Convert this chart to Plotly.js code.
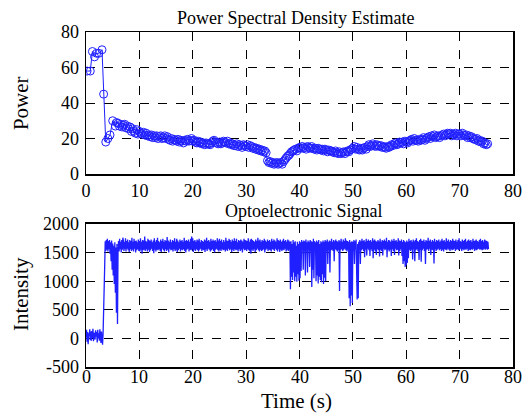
<!DOCTYPE html>
<html><head><meta charset="utf-8">
<script src="https://cdn.plot.ly/plotly-3.0.1.min.js"></script>
<style>html,body{margin:0;padding:0;background:#fff}</style>
</head><body><div id="chart" style="width:522px;height:420px"></div>
<script>
// ---- Data ----
const xTickVals = [0,10,20,30,40,50,60,70,80];
const psdTickVals = [0,20,40,60,80];
const sigTickVals = [-500,0,500,1000,1500,2000];
const sigTickText = ['-500','0','500','1000','1500','2000'];

// PSD: early irregular points
const psdEarlyX = [0.2,0.8,1.2,1.6,2.0,2.4,3.0,3.3,3.7,4.1,4.5,5.0,5.5];
const psdEarlyY = [58,58,69,66,68,68,70,45,18,20,22,30,27];
// PSD: dense part, starting at 5.75, step 0.25
const psdDenseStart = 5.75, psdDenseStep = 0.25;
const psdDenseY = [
 29,
 28.5,27,28,26.5, 27.5,28,26,27, 25.5,26.5,24,25.5, 24,23,25,22.5,
 24,23,22.5,23.5, 22,23,21.5,22, 21,22,20.5,21.5, 20.5,21.5,20,21,
 21.5,20,20.5,21.5, 20,21,19.5,19, 20,18.5,19.5,19, 18.5,19.5,18,19,
 18.5,17.5,19,18.5, 19.5,18.5,19,20, 18.5,19,18,17.5, 18.5,17.5,18,17,
 17.5,16.5,17.5,17, 17,16.5,17.5,18.5, 19,18,17.5,17, 18,17,17.5,18.5,
 18,17.5,18.5,17, 17.5,16.5,17,16, 16,17,15.5,16.5, 16,15,16.5,16,
 15.5,16.5,15,16, 15.5,14.5,15,14, 14.5,13.5,14,13, 13.5,12.5,13,12,
 7.5,6.5,7,6, 6.5,5.5,6,6.5, 5.5,6,6.5,5.5, 7,8,9,10,
 10.5,11.5,12.5,13, 13.5,14,13,14.5, 15,14.5,15.5,14.5, 15,14,15.5,15,
 14.5,15.5,14.5,14, 14.5,13.5,14.5,14, 13.5,14,13,14, 13.5,12.5,13.5,13,
 13,12.5,12,13, 12,11.5,12.5,11.5, 12,12.5,11.5,12.5, 13,12.5,13.5,14,
 14.5,15.5,14,15, 14,13.5,14.5,13.5, 14.5,15,14,15.5, 16.5,15.5,16,17,
 16,15.5,16.5,16, 15.5,16,15,15.5, 15,14.5,15.5,15, 15.5,16.5,16,17,
 17.5,16.5,17,18, 17.5,18,17,18.5, 18,17.5,18.5,19, 19.5,18.5,20,19,
 19,18.5,19.5,19, 19.5,20.5,19,20, 20.5,21,20,21.5, 21,22,20.5,21,
 21.5,20.5,21.5,22, 22.5,21.5,22,23, 22.5,23,21.5,22.5, 22,23,21.5,22.5,
 22.5,21.5,23,22, 21.5,22,20.5,21.5, 20.5,21,20,19.5, 19.5,20,18.5,19,
 18,18.5,17,17.5, 16.5,17
];

// Optoelectronic signal, sampled every 0.1 s from 0 s
const sigStart = 0, sigStep = 0.1;
const sigY = [
 20,150,-60,110,-100,90,40,160,-30,120,
 -40,130,10,170,-50,100,60,-20,140,30,
 110,-70,150,0,90,-40,160,20,-80,120,
 40,-110,80,350,700,1250,1700,1530,1720,1550,
 1740,1520,1700,1560,1720,1480,1680,1350,1710,1200,
 1660,1100,1620,950,1680,800,1590,450,1650,250,
 1540,1700,1520,1740,1560,1690,1500,1720,1550,1760,
 1710,1530,1690,1560,1750,1520,1700,1570,1730,1540,
 1680,1510,1720,1560,1700,1530,1760,1550,1690,1520,
 1740,1570,1700,1500,1710,1540,1680,1560,1730,1530,
 1700,1520,1750,1550,1690,1480,1720,1540,1710,1550,
 1780,1530,1700,1560,1690,1520,1740,1550,1720,1510,
 1700,1540,1730,1570,1680,1530,1710,1490,1750,1550,
 1690,1520,1720,1550,1760,1540,1700,1560,1680,1530,
 1730,1510,1700,1570,1740,1540,1690,1520,1720,1560,
 1700,1530,1770,1550,1710,1500,1690,1570,1730,1540,
 1680,1550,1720,1520,1700,1560,1750,1530,1690,1550,
 1740,1510,1710,1540,1680,1570,1730,1520,1700,1550,
 1720,1540,1690,1560,1760,1530,1700,1500,1720,1550,
 1700,1570,1730,1520,1690,1550,1740,1540,1780,1560,
 1750,1510,1700,1550,1720,1530,1690,1560,1730,1540,
 1710,1520,1740,1550,1680,1570,1720,1530,1700,1550,
 1690,1540,1730,1510,1710,1560,1760,1530,1700,1570,
 1720,1550,1690,1520,1740,1540,1700,1560,1730,1530,
 1700,1500,1720,1550,1690,1570,1750,1540,1710,1520,
 1740,1550,1700,1530,1730,1560,1680,1540,1720,1550,
 1690,1520,1760,1550,1710,1530,1700,1570,1740,1540,
 1720,1560,1690,1510,1730,1550,1700,1530,1750,1560,
 1700,1540,1740,1550,1680,1520,1720,1560,1700,1530,
 1730,1550,1710,1500,1690,1570,1740,1540,1720,1550,
 1710,1530,1700,1560,1750,1540,1690,1520,1730,1480,
 1740,1550,1720,1530,1700,1560,1690,1510,1730,1540,
 1700,1570,1760,1540,1710,1520,1730,1550,1690,1530,
 1720,1540,1700,1560,1740,1500,1710,1550,1690,1570,
 1730,1530,1700,1550,1720,1540,1690,1520,1740,1560,
 1700,1550,1730,1530,1710,1570,1690,1540,1750,1520,
 1720,1560,1700,1510,1730,1550,1690,1530,1710,1550,
 1740,1540,1700,1570,1720,1520,1690,1550,1730,1530,
 1710,1550,1690,860,1700,1080,1650,1020,1720,1150,
 1680,1000,1700,1080,1620,990,1690,1120,1650,1010,
 1700,1050,1680,1180,1720,1550,1690,1200,1710,1530,
 1700,1100,1730,1540,1680,1150,1710,1550,1690,1250,
 1720,1530,1700,900,1690,1200,1740,1050,1700,1550,
 1680,1000,1710,1100,1690,960,1720,1080,1650,1020,
 1700,980,1680,1120,1710,950,1690,1060,1720,1000,
 1700,1530,1730,1300,1690,1550,1710,1150,1700,1540,
 1740,1550,1690,1530,1720,1350,1700,1560,1730,1540,
 1700,1520,1690,1550,1720,830,1700,1540,1740,1560,
 1690,1530,1730,1550,1700,1570,1750,1540,1710,1520,
 1700,1550,1690,700,1720,560,1680,750,1700,620,
 1690,1530,1720,1300,1700,1560,1730,900,680,1650,
 700,1690,1550,1720,1300,1700,1540,1740,1560,1700,
 1530,1720,1420,1690,1550,1740,1450,1700,1570,1730,
 1540,1700,1440,1720,1560,1690,1530,1750,1400,1710,
 1550,1730,1520,1700,1460,1690,1560,1720,1540,1700,
 1430,1740,1550,1690,1530,1720,1450,1700,1570,1730,
 1540,1700,1560,1760,1420,1690,1550,1720,1520,1710,
 1550,1690,1440,1730,1560,1700,1530,1740,1460,1700,
 1570,1720,1540,1690,1550,1750,1450,1710,1530,1700,
 1560,1730,1440,1690,1300,1720,1350,1700,1250,1680,
 1280,1710,1320,1690,1400,1740,1550,1700,1530,1720,
 1550,1690,1380,1730,1560,1700,1350,1720,1540,1750,
 1560,1700,1530,1690,1370,1720,1550,1740,1340,1710,
 1540,1700,1570,1730,1530,1690,1300,1720,1550,1700,
 1560,1760,1530,1700,1570,1730,1460,1690,1550,1720,
 1540,1700,1310,1740,1560,1690,1530,1720,1550,1700,
 1570,1730,1540,1690,1560,1710,1530,1740,1550,1700,
 1520,1720,1560,1690,1550,1750,1540,1700,1570,1730,
 1550,1690,1530,1720,1560,1700,1540,1740,1550,1710,
 1570,1700,1530,1730,1550,1690,1560,1720,1540,1750,
 1550,1700,1570,1690,1530,1730,1560,1700,1540,1720,
 1560,1740,1550,1690,1570,1710,1530,1730,1550,1700,
 1540,1720,1560,1690,1550,1740,1570,1700,1530,1710,
 1550,1730,1540,1700,1560,1690,1570,1720,1550,1740,
 1560,1700,1540,1720,1550,1690,1570,1730,1550,1710,
 1570,1700,1550,1690,1560
];

// ---- Build traces ----
const psdX = psdEarlyX.slice();
const psdY = psdEarlyY.slice();
psdDenseY.forEach((v,i)=>{ psdX.push(psdDenseStart + i*psdDenseStep); psdY.push(v); });
const sigX = sigY.map((v,i)=> +(sigStart + i*sigStep).toFixed(3));

const BLUE = '#1f1fff';
const traces = [
  {x: psdX, y: psdY, xaxis:'x', yaxis:'y', type:'scatter', mode:'lines+markers',
   line:{color:BLUE, width:1},
   marker:{symbol:'circle-open', size:8, color:BLUE, line:{width:1, color:BLUE}}},
  {x: sigX, y: sigY, xaxis:'x2', yaxis:'y2', type:'scatter', mode:'lines',
   line:{color:BLUE, width:1.3}}
];

const FONT = 'Liberation Serif, Times New Roman, serif';
function axisBase(extra){
  return Object.assign({
    showgrid:true, gridcolor:'#000', griddash:'dash', gridwidth:1,
    showline:true, mirror:true, linecolor:'#000', linewidth:1.5,
    zeroline:false, ticks:'', tickfont:{family:FONT, size:18, color:'#000'},
    fixedrange:true
  }, extra);
}

// bottom x tick labels placed just under the lower axis (closer than Plotly's default gap)
const bottomTickAnn = xTickVals.map(v => ({
  text:String(v), xref:'x2', yref:'paper', x:v, y:0, yshift:-10,
  xanchor:'center', yanchor:'middle', showarrow:false, borderpad:0,
  font:{family:FONT, size:18, color:'#000'}
}));

const layout = {
  width:522, height:420,
  margin:{l:86, r:9, t:32, b:53, pad:0},
  paper_bgcolor:'#fff', plot_bgcolor:'#fff',
  showlegend:false,
  font:{family:FONT, size:18, color:'#000'},
  xaxis: axisBase({domain:[0,1], range:[0,80], tickvals:xTickVals, anchor:'y', ticklabelstandoff:0}),
  yaxis: axisBase({domain:[0.5761,1], range:[0,80], tickvals:psdTickVals, anchor:'x', ticklabelstandoff:2}),
  xaxis2: axisBase({domain:[0,1], range:[0,80], tickvals:xTickVals, anchor:'y2', showticklabels:false}),
  yaxis2: axisBase({domain:[0,0.4269], range:[-500,2000], tickvals:sigTickVals, ticktext:sigTickText, anchor:'x2', ticklabelstandoff:2}),
  annotations:[
    {text:'Power Spectral Density Estimate', xref:'paper', yref:'paper', x:0.49, y:1.0, yshift:2,
     xanchor:'center', yanchor:'bottom', showarrow:false, font:{family:FONT, size:18, color:'#000'}},
    {text:'Optoelectronic Signal', xref:'paper', yref:'paper', x:0.51, y:0.4269, yshift:1,
     xanchor:'center', yanchor:'bottom', showarrow:false, font:{family:FONT, size:18, color:'#000'}},
    {text:'Power', xref:'paper', yref:'paper', x:-0.152, y:0.788, textangle:-90,
     xanchor:'center', yanchor:'middle', showarrow:false, font:{family:FONT, size:21, color:'#000'}},
    {text:'Intensity', xref:'paper', yref:'paper', x:-0.152, y:0.218, textangle:-90,
     xanchor:'center', yanchor:'middle', showarrow:false, font:{family:FONT, size:21, color:'#000'}},
    {text:'Time (s)', xref:'paper', yref:'paper', x:0.494, y:-0.1, borderpad:0,
     xanchor:'center', yanchor:'middle', showarrow:false, font:{family:FONT, size:21, color:'#000'}}
  ].concat(bottomTickAnn)
};

Plotly.newPlot('chart', traces, layout, {displayModeBar:false, staticPlot:true});
</script>
</body></html>
